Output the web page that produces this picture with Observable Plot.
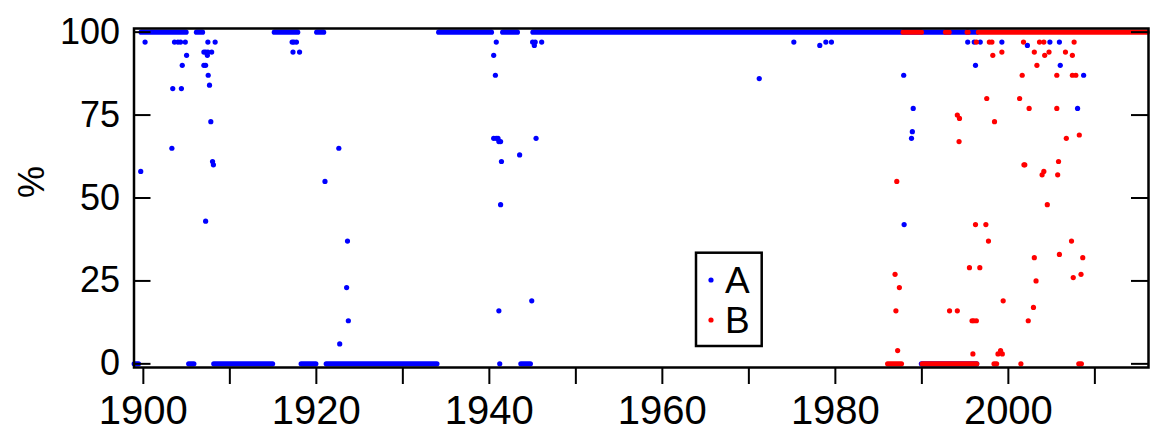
<!DOCTYPE html>
<html><head><meta charset="utf-8">
<script src="https://cdn.jsdelivr.net/npm/d3@7"></script>
<script src="https://cdn.jsdelivr.net/npm/@observablehq/plot@0.6"></script>
<style>
html,body{margin:0;padding:0;background:#fff;}
#chart{position:relative;width:1169px;height:442px;}
</style></head><body><div id="chart"></div>
<script>
// ---- data ----
const xTicks = [1900,1910,1920,1930,1940,1950,1960,1970,1980,1990,2000,2010];
const xTickLabels = [1900,1920,1940,1960,1980,2000];
const yTicks = [0,25,50,75,100];
const seriesNames = ["A","B"];
const seriesColors = ["#0000ff","#ff0000"];

// dense runs of points: [startYear, endYear, value]
const runsA = [
  [1899.8,1905.0,100],[1906.2,1906.9,100],[1915.2,1917.9,100],[1920.1,1920.9,100],
  [1934.2,1940.3,100],[1941.6,1943.3,100],[1945.1,1996.4,100],
  [1899.0,1899.5,0],[1905.3,1905.9,0],[1908.2,1915.0,0],[1918.3,1920.0,0],
  [1921.2,1934.0,0],[1943.7,1944.8,0],[1990.0,1996.4,0]
];
const runsB = [
  [1987.9,1990.0,100],[1992.8,1993.2,100],[1995.3,1995.4,100],[1996.6,2016.1,100],
  [1986.1,1987.7,0],[1990.1,1996.4,0],[1998.4,1998.7,0],[2008.2,2008.5,0]
];

// individual points
const yearsA = [1899.7,1900.2,1903.3,1903.4,1903.6,1904.0,1904.3,1904.4,1904.5,1904.85,1905.0,
  1907.0,1907.0,1907.2,1907.2,1907.2,1907.4,1907.46,1907.46,1907.5,1907.65,1907.8,1907.9,1908.0,1908.1,1908.3,
  1917.2,1917.3,1917.4,1917.7,1918.06,1921.0,1922.6,1922.7,1923.5,1923.6,1923.7,
  1940.5,1940.5,1940.7,1940.8,1940.8,1941.0,1941.1,1941.1,1941.3,1941.3,1941.4,1941.2,1943.5,1944.9,
  1945.0,1945.2,1945.3,1945.4,1946.05,1971.2,1975.2,1978.2,1978.9,1979.55,
  1987.9,1987.95,1988.8,1988.9,1989.0,1995.3,1996.05,1996.2,1996.75,1999.25,
  2002.2,2004.8,2005.9,2006.0,2008.0,2008.7];
const valuesA = [58,97,65,83,97,97,97,83,90,97,93,
  94,90,94,90,43,93,97,94,87,84,73,94,61,60,97,
  97,94,97,97,94,55,65,6,23,37,13,
  93,68,87,97,68,68,16,67,67,48,61,0,63,19,
  97,96,97,68,97,86,97,96,97,97,
  87,42,68,70,77,97,97,90,97,97,
  96,97,97,90,77,87];

const yearsB = [1986.9,1987.0,1987.1,1987.2,1987.4,1993.2,1994.1,1994.1,1994.3,1994.35,
  1995.5,1995.8,1995.9,1996.0,1996.2,1996.3,1996.3,1996.7,1997.4,1997.5,1997.7,1997.8,
  1998.1,1998.2,1998.4,1998.8,1999.1,1999.25,1999.3,1999.4,
  2001.3,2001.45,2001.6,2001.75,2001.8,2001.9,2002.3,2002.4,2002.9,2003.0,2003.0,2003.2,2003.3,
  2003.6,2003.9,2004.1,2004.1,2004.2,2004.5,2004.7,2005.6,2005.6,2005.7,2005.8,2005.9,
  2006.6,2006.7,2007.3,2007.4,2007.4,2007.5,2007.6,2007.8,2008.2,2008.4,2008.6];
const valuesB = [27,16,55,4,23,16,75,16,67,74,
  29,13,3,13,42,13,97,29,42,80,37,97,
  97,93,73,3,4,94,3,19,
  80,0,87,97,60,60,13,77,17,94,32,25,90,
  97,57,58,97,93,48,94,87,77,57,61,33,
  94,68,37,93,87,26,97,87,69,27,32];

// ---- layout ----
const W = 1169, H = 442, mL = 133.5, mR = 21, mT = 28, mB = 75;
const plotW = W - mL - mR;
const tickLen = 17;
const font = "'Liberation Sans', Arial, Helvetica, sans-serif";

const ptsA = yearsA.map((x,i) => ({x, y: valuesA[i]}));
const ptsB = yearsB.map((x,i) => ({x, y: valuesB[i]}));

const runMark = (runs, color) => Plot.ruleY(runs, {
  y: d => d[2], x1: d => d[0], x2: d => d[1],
  stroke: color, strokeWidth: 5.2, strokeLinecap: "round"
});

const chart = Plot.plot({
  width: W, height: H,
  marginLeft: mL, marginRight: mR, marginTop: mT, marginBottom: mB,
  style: {fontFamily: font, color: "#000", background: "#fff", overflow: "visible"},
  x: {domain: [1898.92, 2016.2]},
  y: {domain: [-1.1, 101.1]},
  marks: [
    runMark(runsA, seriesColors[0]),
    Plot.dot(ptsA, {x: "x", y: "y", r: 2.6, fill: seriesColors[0]}),
    runMark(runsB, seriesColors[1]),
    Plot.dot(ptsB, {x: "x", y: "y", r: 2.6, fill: seriesColors[1]}),
    Plot.tickY(yTicks, {y: d => d, insetRight: plotW - tickLen, stroke: "#000", strokeWidth: 2}),
    Plot.tickY(yTicks, {y: d => d, insetLeft: plotW - tickLen, stroke: "#000", strokeWidth: 2}),
    Plot.axisX({ticks: xTicks, tickSize: tickLen, tickPadding: 11, strokeWidth: 2,
      tickFormat: d => xTickLabels.includes(d) ? String(d) : "", fontSize: 40, label: null}),
    Plot.axisY({ticks: yTicks, tickSize: 0, tickPadding: 14, fontSize: 36, label: null}),
    Plot.frame({stroke: "#000", strokeWidth: 2.5}),
    Plot.text(["%"], {text: d => d, frameAnchor: "left", dx: -101.5, rotate: -90, fontSize: 36})
  ]
});
document.getElementById("chart").appendChild(chart);

// legend box inside the plot area
const lg = d3.select("#chart").append("svg")
  .attr("width", 72).attr("height", 100)
  .style("position", "absolute").style("left", "694px").style("top", "250px");
lg.append("rect").attr("x", 2).attr("y", 2.7).attr("width", 65.7).attr("height", 93.3)
  .attr("fill", "#fff").attr("stroke", "#000").attr("stroke-width", 2.5);
seriesNames.forEach((name, i) => {
  lg.append("circle").attr("cx", 17).attr("cy", 30 + 40 * i).attr("r", 2.6).attr("fill", seriesColors[i]);
  lg.append("text").attr("x", 31).attr("y", 43.3 + 39.4 * i)
    .attr("font-family", font).attr("font-size", 37).attr("fill", "#000").text(name);
});
</script>
</body></html>
